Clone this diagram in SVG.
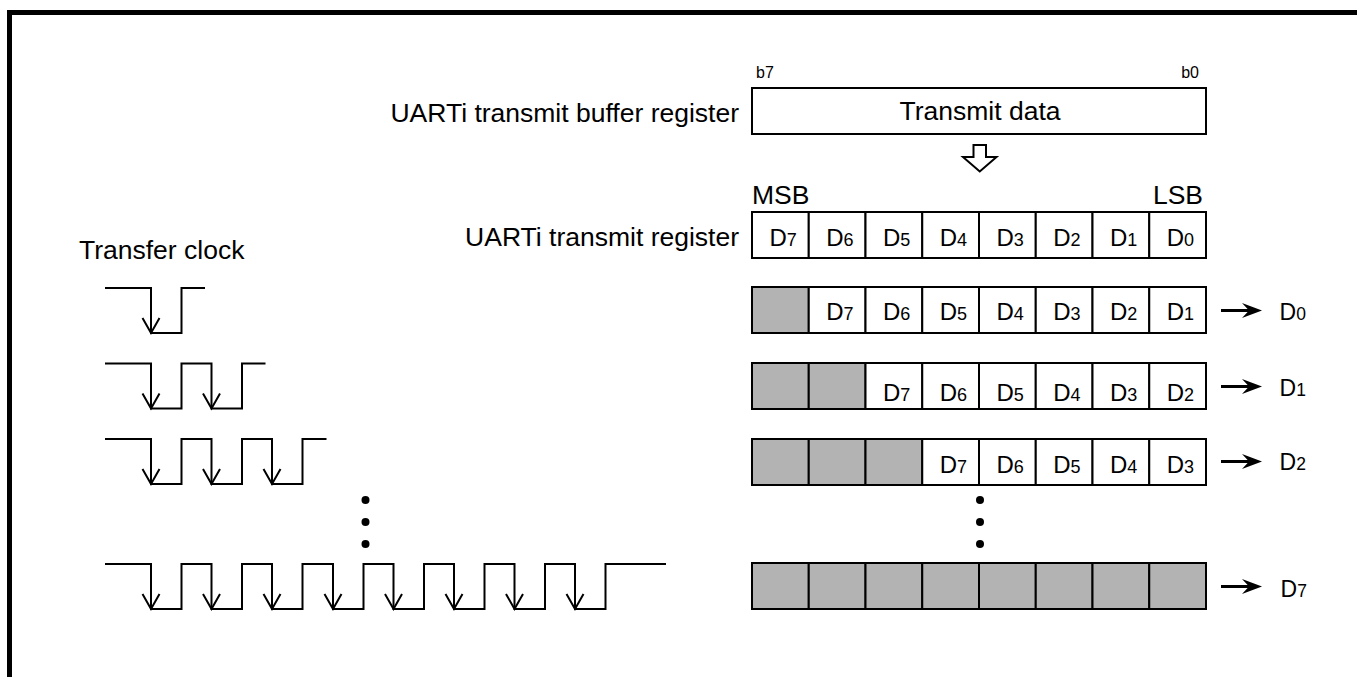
<svg xmlns="http://www.w3.org/2000/svg" width="1357" height="677" viewBox="0 0 1357 677">
<defs>
<style>
text{font-family:"Liberation Sans",Arial,sans-serif;fill:#000}
.lbl{font-size:26.5px}
.sm{font-size:16px}
.cell{font-size:24px}
.cell tspan{font-size:18px}
.out{font-size:23px}
.out tspan{font-size:17.5px}
.w{fill:#fff;stroke:#000;stroke-width:2}
.g{fill:#b3b3b3;stroke:#000;stroke-width:2}
.wave{fill:none;stroke:#000;stroke-width:2}
.tip{fill:none;stroke:#000;stroke-width:2}
.shaft{stroke:#000;stroke-width:3}
</style>
<path id="ah" d="M0,0 L-20,-7.5 L-13,0 L-20,7.5 Z" fill="#000"/>
<path id="v" d="M-8.5,-15 L0,0 L8.5,-15" class="tip"/>
</defs>
<rect x="0" y="0" width="1357" height="677" fill="#fff"/>
<path id="frame" d="M9.5,677 L9.5,12.5 L1357,12.5" fill="none" stroke="#000" stroke-width="5"/>

<g id="labels">
<text class="lbl" x="739" y="122" text-anchor="end">UARTi transmit buffer register</text>
<text class="lbl" x="739" y="246" text-anchor="end">UARTi transmit register</text>
<text class="lbl" x="79" y="259">Transfer clock</text>
</g>

<g id="buffer-register">
<rect class="w" x="752" y="88" width="454" height="46"/>
<text class="sm" x="756" y="78">b7</text>
<text class="sm" x="1199" y="78" text-anchor="end">b0</text>
<text class="lbl" x="980" y="120" text-anchor="middle">Transmit data</text>
</g>

<g id="transfer-arrow">
<polygon points="973.5,145 986,145 986,157 996.5,157 979.75,171.5 963,157 973.5,157" fill="#fff" stroke="#000" stroke-width="2"/>
</g>

<g id="transmit-register">
<text class="lbl" x="752" y="204">MSB</text>
<text class="lbl" x="1203" y="204" text-anchor="end">LSB</text>
<rect class="w" x="752" y="212" width="56.75" height="46"/>
<rect class="w" x="808.75" y="212" width="56.75" height="46"/>
<rect class="w" x="865.5" y="212" width="56.75" height="46"/>
<rect class="w" x="922.25" y="212" width="56.75" height="46"/>
<rect class="w" x="979" y="212" width="56.75" height="46"/>
<rect class="w" x="1035.75" y="212" width="56.75" height="46"/>
<rect class="w" x="1092.5" y="212" width="56.75" height="46"/>
<rect class="w" x="1149.25" y="212" width="56.75" height="46"/>
<text class="cell" x="769.5" y="246">D<tspan>7</tspan></text>
<text class="cell" x="826.25" y="246">D<tspan>6</tspan></text>
<text class="cell" x="883" y="246">D<tspan>5</tspan></text>
<text class="cell" x="939.75" y="246">D<tspan>4</tspan></text>
<text class="cell" x="996.5" y="246">D<tspan>3</tspan></text>
<text class="cell" x="1053.25" y="246">D<tspan>2</tspan></text>
<text class="cell" x="1110" y="246">D<tspan>1</tspan></text>
<text class="cell" x="1166.75" y="246">D<tspan>0</tspan></text>
</g>

<g id="shift-1">
<rect class="g" x="752" y="287" width="56.75" height="46"/>
<rect class="w" x="808.75" y="287" width="56.75" height="46"/>
<rect class="w" x="865.5" y="287" width="56.75" height="46"/>
<rect class="w" x="922.25" y="287" width="56.75" height="46"/>
<rect class="w" x="979" y="287" width="56.75" height="46"/>
<rect class="w" x="1035.75" y="287" width="56.75" height="46"/>
<rect class="w" x="1092.5" y="287" width="56.75" height="46"/>
<rect class="w" x="1149.25" y="287" width="56.75" height="46"/>
<text class="cell" x="826.25" y="320">D<tspan>7</tspan></text>
<text class="cell" x="883" y="320">D<tspan>6</tspan></text>
<text class="cell" x="939.75" y="320">D<tspan>5</tspan></text>
<text class="cell" x="996.5" y="320">D<tspan>4</tspan></text>
<text class="cell" x="1053.25" y="320">D<tspan>3</tspan></text>
<text class="cell" x="1110" y="320">D<tspan>2</tspan></text>
<text class="cell" x="1166.75" y="320">D<tspan>1</tspan></text>
<text class="out" x="1279.5" y="320">D<tspan>0</tspan></text>
</g>

<g id="shift-2">
<rect class="g" x="752" y="363" width="56.75" height="46"/>
<rect class="g" x="808.75" y="363" width="56.75" height="46"/>
<rect class="w" x="865.5" y="363" width="56.75" height="46"/>
<rect class="w" x="922.25" y="363" width="56.75" height="46"/>
<rect class="w" x="979" y="363" width="56.75" height="46"/>
<rect class="w" x="1035.75" y="363" width="56.75" height="46"/>
<rect class="w" x="1092.5" y="363" width="56.75" height="46"/>
<rect class="w" x="1149.25" y="363" width="56.75" height="46"/>
<text class="cell" x="883" y="401">D<tspan>7</tspan></text>
<text class="cell" x="939.75" y="401">D<tspan>6</tspan></text>
<text class="cell" x="996.5" y="401">D<tspan>5</tspan></text>
<text class="cell" x="1053.25" y="401">D<tspan>4</tspan></text>
<text class="cell" x="1110" y="401">D<tspan>3</tspan></text>
<text class="cell" x="1166.75" y="401">D<tspan>2</tspan></text>
<text class="out" x="1279.5" y="396">D<tspan>1</tspan></text>
</g>

<g id="shift-3">
<rect class="g" x="752" y="439" width="56.75" height="46"/>
<rect class="g" x="808.75" y="439" width="56.75" height="46"/>
<rect class="g" x="865.5" y="439" width="56.75" height="46"/>
<rect class="w" x="922.25" y="439" width="56.75" height="46"/>
<rect class="w" x="979" y="439" width="56.75" height="46"/>
<rect class="w" x="1035.75" y="439" width="56.75" height="46"/>
<rect class="w" x="1092.5" y="439" width="56.75" height="46"/>
<rect class="w" x="1149.25" y="439" width="56.75" height="46"/>
<text class="cell" x="939.75" y="473">D<tspan>7</tspan></text>
<text class="cell" x="996.5" y="473">D<tspan>6</tspan></text>
<text class="cell" x="1053.25" y="473">D<tspan>5</tspan></text>
<text class="cell" x="1110" y="473">D<tspan>4</tspan></text>
<text class="cell" x="1166.75" y="473">D<tspan>3</tspan></text>
<text class="out" x="1279.5" y="470">D<tspan>2</tspan></text>
</g>

<g id="shift-8">
<rect class="g" x="752" y="563" width="56.75" height="46"/>
<rect class="g" x="808.75" y="563" width="56.75" height="46"/>
<rect class="g" x="865.5" y="563" width="56.75" height="46"/>
<rect class="g" x="922.25" y="563" width="56.75" height="46"/>
<rect class="g" x="979" y="563" width="56.75" height="46"/>
<rect class="g" x="1035.75" y="563" width="56.75" height="46"/>
<rect class="g" x="1092.5" y="563" width="56.75" height="46"/>
<rect class="g" x="1149.25" y="563" width="56.75" height="46"/>
<text class="out" x="1280.5" y="597">D<tspan>7</tspan></text>
</g>

<g id="connectors">
<line class="shaft" x1="1221" y1="310.5" x2="1250" y2="310.5"/>
<use href="#ah" x="1262" y="310.5"/>
<line class="shaft" x1="1221" y1="386.5" x2="1250" y2="386.5"/>
<use href="#ah" x="1262" y="386.5"/>
<line class="shaft" x1="1221" y1="461.5" x2="1250" y2="461.5"/>
<use href="#ah" x="1262" y="461.5"/>
<line class="shaft" x1="1221" y1="586.5" x2="1250" y2="586.5"/>
<use href="#ah" x="1262" y="586.5"/>
</g>

<g id="dots">
<circle cx="365.5" cy="500" r="4"/>
<circle cx="365.5" cy="522" r="4"/>
<circle cx="365.5" cy="544" r="4"/>
<circle cx="980" cy="500" r="4"/>
<circle cx="980" cy="522" r="4"/>
<circle cx="980" cy="544" r="4"/>
</g>

<g id="clock-1">
<path class="wave" d="M105,288 H151 V333 H181.5 V288 H205"/>
<use href="#v" x="151" y="333"/>
</g>
<g id="clock-2">
<path class="wave" d="M105,363.5 H151 V408.5 H181.5 V363.5 H211.5 V408.5 H242 V363.5 H265.5"/>
<use href="#v" x="151" y="408.5"/>
<use href="#v" x="211.5" y="408.5"/>
</g>
<g id="clock-3">
<path class="wave" d="M105,439 H151 V484 H181.5 V439 H211.5 V484 H242 V439 H272 V484 H302.5 V439 H326.5"/>
<use href="#v" x="151" y="484"/>
<use href="#v" x="211.5" y="484"/>
<use href="#v" x="272" y="484"/>
</g>
<g id="clock-8">
<path class="wave" d="M105,564 H151 V609 H181.5 V564 H211.5 V609 H242 V564 H272 V609 H302.5 V564 H333 V609 H363.5 V564 H393.5 V609 H424 V564 H454 V609 H484.5 V564 H514.5 V609 H545 V564 H575 V609 H605.5 V564 H666"/>
<use href="#v" x="151" y="609"/>
<use href="#v" x="211.5" y="609"/>
<use href="#v" x="272" y="609"/>
<use href="#v" x="333" y="609"/>
<use href="#v" x="393.5" y="609"/>
<use href="#v" x="454" y="609"/>
<use href="#v" x="514.5" y="609"/>
<use href="#v" x="575" y="609"/>
</g>
</svg>
